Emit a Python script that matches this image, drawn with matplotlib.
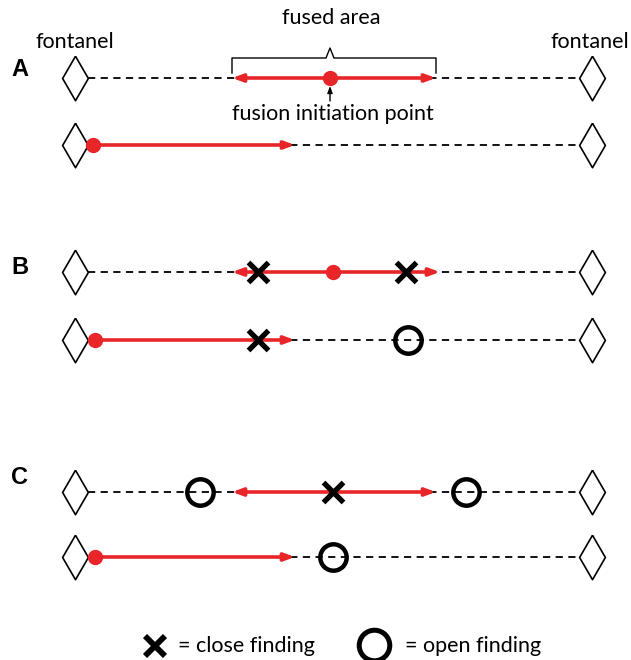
import matplotlib.pyplot as plt

# panel rows: label, y of the two suture lines
panels = ["A", "B", "C"]
panel_label_y = [70, 267, 478]
row_y = [[78, 145], [272, 340], [492, 557]]

# suture geometry (pixel space)
fontanel_x = [75, 592]
line_start, line_end = 88, 579

# fused segments per row: (start, end, initiation point, two-sided?)
fused = [
    [(232, 436, 330, True), (93, 295, 93, False)],
    [(232, 440, 333, True), (95, 295, 95, False)],
    [(232, 436, None, True), (95, 295, 95, False)],
]
close_findings = [[[], []], [[258, 406], [258]], [[333], []]]
open_findings = [[[], []], [[], [408]], [[200, 466], [333]]]

RED = "#e8262a"
TXT_FONT = ["Lato", "DejaVu Sans"]
diamond = [(0, 1), (0.58, 0), (0, -1), (-0.58, 0), (0, 1)]

fig = plt.figure(figsize=(6.31, 6.60), dpi=100)
ax = fig.add_axes([0, 0, 1, 1])
ax.set_xlim(0, 631)
ax.set_ylim(660, 0)
ax.axis("off")

for p, label in enumerate(panels):
    ax.text(20, panel_label_y[p], label, fontsize=17, fontweight="bold",
            family="Liberation Sans", ha="center", va="center")
    for r, y in enumerate(row_y[p]):
        ax.plot([line_start, line_end], [y, y], color="black", lw=1.3,
                dashes=(4, 3), zorder=1)
        ax.plot(fontanel_x, [y, y], linestyle="none", marker=diamond,
                markersize=32, markerfacecolor="white", markeredgecolor="black",
                markeredgewidth=1.2, zorder=2)
        x0, x1, xi, both = fused[p][r]
        style = "<|-|>" if both else "-|>"
        ax.annotate("", xy=(x1, y), xytext=(x0, y),
                    arrowprops=dict(arrowstyle=style + ",head_length=0.6,head_width=0.22",
                                    color=RED, lw=2.6, shrinkA=0, shrinkB=0),
                    zorder=3)
        if xi is not None:
            ax.plot(xi, y, "o", color=RED, markersize=10, zorder=4)
        for xc in close_findings[p][r]:
            ax.plot(xc, y, marker="x", color="black", markersize=14,
                    markeredgewidth=3.8, zorder=5)
        for xo in open_findings[p][r]:
            ax.plot(xo, y, marker="o", markersize=19, markerfacecolor="none",
                    markeredgecolor="black", markeredgewidth=3.2, zorder=5)

# annotations for panel A
FS = 15.5
ax.text(fontanel_x[0], 42, "fontanel", fontsize=FS, family=TXT_FONT, ha="center", va="center")
ax.text(fontanel_x[1] - 2, 42, "fontanel", fontsize=FS, family=TXT_FONT, ha="center", va="center")
ax.text(331, 18, "fused area", fontsize=FS, family=TXT_FONT, ha="center", va="center")
bx0, bx1, bmid, btop, bbot = 232, 436, 330, 48, 73
ax.plot([bx0, bx0, bmid - 4, bmid, bmid + 4, bx1, bx1],
        [bbot, 58, 58, btop, 58, 58, bbot], color="black", lw=1.0)
ax.annotate("", xy=(330, 86), xytext=(330, 101),
            arrowprops=dict(arrowstyle="-|>,head_length=0.4,head_width=0.15",
                            color="black", lw=1.0, shrinkA=0, shrinkB=0))
ax.text(333, 114, "fusion initiation point", fontsize=FS, family=TXT_FONT,
        ha="center", va="center")

# legend
ax.plot(155, 646, marker="x", color="black", markersize=15, markeredgewidth=4.2)
ax.text(178, 646, "= close finding", fontsize=FS, family=TXT_FONT, va="center")
ax.plot(374, 645, marker="o", markersize=22, markerfacecolor="none",
        markeredgecolor="black", markeredgewidth=3.6)
ax.text(405, 646, "= open finding", fontsize=FS, family=TXT_FONT, va="center")

fig.savefig("out.png", dpi=100)
